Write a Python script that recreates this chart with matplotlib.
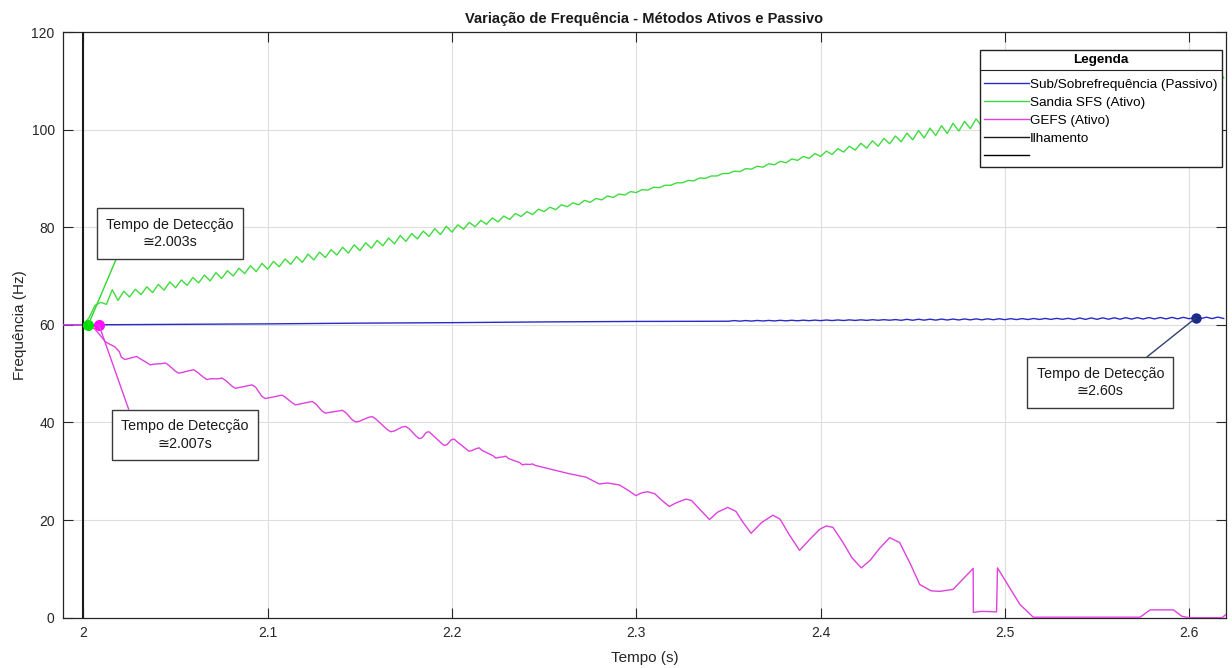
import numpy as np
import matplotlib
matplotlib.use("Agg")
import matplotlib.pyplot as plt
from matplotlib.lines import Line2D

plt.rcParams['font.family'] = ['Liberation Sans', 'DejaVu Sans']

# ---------------- data ----------------
title = "Variação de Frequência - Métodos Ativos e Passivo"
xlabel = "Tempo (s)"
ylabel = "Frequência (Hz)"
series_labels = ["Sub/Sobrefrequência (Passivo)", "Sandia SFS (Ativo)", "GEFS (Ativo)", "Ilhamento", ""]

x_ticks = [2.0, 2.1, 2.2, 2.3, 2.4, 2.5, 2.6]
x_tick_labels = ["2", "2.1", "2.2", "2.3", "2.4", "2.5", "2.6"]
y_ticks = [0, 20, 40, 60, 80, 100, 120]

# Passive (under/over frequency): smooth part, then ripple part sampled every 0.003125 s
blue_t_a = [1.988, 2.0, 2.05, 2.1, 2.15, 2.2, 2.25, 2.3]
blue_f_a = [60.0, 60.0, 60.1, 60.2, 60.35, 60.45, 60.6, 60.7]
blue_t0_b = 2.35
blue_dt_b = 0.003125
blue_f_b = [
    60.74, 60.87, 60.76, 60.88, 60.77, 60.90, 60.79, 60.91, 60.80, 60.93,
    60.82, 60.94, 60.83, 60.96, 60.85, 60.97, 60.86, 60.99, 60.88, 61.00,
    60.89, 61.02, 60.91, 61.03, 60.92, 61.05, 60.94, 61.06, 60.95, 61.08,
    60.93, 61.13, 60.94, 61.15, 60.96, 61.16, 60.97, 61.18, 60.99, 61.19,
    61.00, 61.21, 61.02, 61.22, 61.03, 61.24, 61.05, 61.25, 61.06, 61.27,
    61.08, 61.28, 61.09, 61.30, 61.11, 61.31, 61.12, 61.33, 61.14, 61.34,
    61.10, 61.41, 61.12, 61.42, 61.13, 61.44, 61.15, 61.45, 61.16, 61.47,
    61.18, 61.48, 61.19, 61.50, 61.21, 61.51, 61.22, 61.53, 61.24, 61.54,
    61.25, 61.56, 61.27, 61.57, 61.28, 61.59, 61.30,
]

# Sandia SFS, sampled every 0.003125 s from t = 2.0
green_t0 = 2.0
green_dt = 0.003125
green_f = [
    60.0, 61.5, 64.0, 64.6, 64.2, 67.2, 65.0,
    66.9, 65.7, 67.3, 66.2, 67.8, 66.6, 68.3, 67.1, 68.8, 67.6,
    69.2, 68.1, 69.7, 68.6, 70.2, 69.0, 70.7, 69.5, 71.1, 70.0,
    71.6, 70.5, 72.1, 70.9, 72.6, 71.4, 73.0, 71.9, 73.5, 72.4,
    74.0, 72.8, 74.5, 73.3, 74.9, 73.8, 75.4, 74.3, 75.9, 74.7,
    76.4, 75.2, 76.8, 75.7, 77.3, 76.2, 77.8, 76.6, 78.3, 77.1,
    78.7, 77.6, 79.2, 78.1, 79.7, 78.5, 80.2, 79.0,
    80.5, 79.6, 81.0, 80.1, 81.4, 80.6, 81.9, 81.1, 82.3, 81.6,
    82.8, 82.2, 83.2, 82.6, 83.7, 83.2, 84.1, 83.6, 84.6, 84.2,
    85.0, 84.6, 85.5, 85.1, 85.9, 85.6, 86.4, 86.1, 86.8, 86.6,
    87.3, 87.1,
    87.7, 87.6, 88.2, 88.1, 88.6, 88.6, 89.1, 89.1, 89.6, 89.5,
    90.1, 90.0, 90.5, 90.5, 91.0, 91.0, 91.5, 91.4, 92.0, 91.9,
    92.5, 92.3, 93.0, 92.8, 93.5, 93.2,
    94.0, 93.7, 94.5, 94.1, 95.1, 94.5, 95.6, 94.9, 96.1, 95.4,
    96.6, 95.8, 97.2, 96.2, 97.7, 96.6, 98.2, 97.1, 98.7, 97.5,
    99.3, 97.9,
    99.8, 98.3, 100.3, 98.8, 100.8, 99.2, 101.3, 99.7, 101.7, 100.2,
    102.2, 100.7, 102.7, 101.1, 103.2, 101.6, 103.6, 102.1, 104.1, 102.6,
    104.6, 103.0, 105.1, 103.5, 105.5, 104.0, 106.0, 104.5, 106.5, 104.9,
    107.0, 105.4, 107.4, 105.9, 107.9, 106.4, 108.4, 106.8, 108.9, 107.3,
    109.3, 107.8, 109.8, 108.3, 110.3, 108.7, 110.8, 109.2, 111.2, 109.7,
    111.7, 110.2, 112.2, 110.6,
]

# GEFS
mag_t = [1.988, 2.000, 2.003, 2.006, 2.009, 2.012, 2.0145, 2.017, 2.0195,
         2.0205, 2.0225, 2.0245, 2.0270, 2.0290, 2.0310, 2.0342, 2.0362, 2.0382,
         2.0424, 2.0444, 2.0464, 2.0496, 2.0516, 2.0536, 2.0578, 2.0598, 2.0618,
         2.0650, 2.0670, 2.0690, 2.0732, 2.0752, 2.0772, 2.0804, 2.0824, 2.0844,
         2.0895, 2.0915, 2.0935, 2.0967, 2.0987, 2.1007, 2.1058, 2.1078, 2.1098,
         2.1130, 2.1150, 2.1170, 2.1221, 2.1241, 2.1261, 2.1293, 2.1313, 2.1333,
         2.1384, 2.1404, 2.1424, 2.1457, 2.1477, 2.1497, 2.1547, 2.1567, 2.1587,
         2.1647, 2.1667, 2.1687, 2.1728, 2.1748, 2.1768, 2.1805, 2.1821, 2.1837,
         2.1860, 2.1875, 2.1890, 2.1941, 2.1957, 2.1973, 2.1996, 2.2011, 2.2026,
         2.2076, 2.2092, 2.2108, 2.2132, 2.2147, 2.2162, 2.2222, 2.2238, 2.2254,
         2.2277, 2.2292, 2.2307, 2.2366, 2.2382, 2.2398, 2.2422, 2.2437, 2.2452,
         2.2527, 2.2636, 2.2727, 2.2799, 2.2844, 2.2908, 2.2960, 2.2998, 2.3030,
         2.3062, 2.3100, 2.3140, 2.3179, 2.3220, 2.3270, 2.3300, 2.3350, 2.3397,
         2.3440, 2.3496, 2.3540, 2.3580, 2.3623, 2.3680, 2.3741, 2.3780, 2.3830,
         2.3886, 2.3940, 2.3995, 2.4031, 2.4067, 2.4120, 2.4170, 2.4221, 2.4270,
         2.4320, 2.4375, 2.4429, 2.4490, 2.4538, 2.4600, 2.4647, 2.4719, 2.4828,
         2.4829, 2.4873, 2.4955, 2.4960, 2.5009, 2.5082, 2.5154, 2.5734, 2.5788,
         2.5915, 2.5960, 2.6000, 2.6178, 2.6205]
mag_f = [60.0, 60.0, 59.8, 59.2, 57.9, 56.5, 56.0, 55.5, 54.5,
         53.4, 52.9, 53.1, 53.35, 53.5, 53.0, 52.3, 51.8, 51.95,
         52.05, 52.2, 51.7, 50.6, 50.1, 50.25, 50.65, 50.8, 50.3,
         49.3, 48.8, 48.95, 48.95, 49.1, 48.6, 47.5, 47.0, 47.15,
         47.55, 47.7, 47.2, 45.4, 44.9, 45.05, 45.45, 45.6, 45.1,
         44.1, 43.6, 43.75, 44.15, 44.3, 43.8, 42.4, 41.9, 42.05,
         42.35, 42.5, 42.0, 40.6, 40.1, 40.25, 41.05, 41.2, 40.7,
         38.6, 38.1, 38.25, 39.05, 39.2, 38.7, 37.2, 36.7, 36.85,
         37.95, 38.1, 37.6, 35.8, 35.3, 35.45, 36.45, 36.6, 36.1,
         34.6, 34.1, 34.25, 34.65, 34.8, 34.3, 33.2, 32.7, 32.85,
         32.95, 33.1, 32.6, 31.8, 31.3, 31.45, 31.4, 31.5, 31.2,
         30.5, 29.5, 28.8, 27.4, 27.6, 27.2, 26.0, 25.0, 25.6,
         25.8, 25.4, 24.0, 22.8, 23.6, 24.3, 24.0, 22.0, 20.1,
         21.6, 22.6, 21.8, 19.5, 17.3, 19.5, 21.0, 20.2, 17.0,
         13.8, 16.0, 18.1, 18.8, 18.5, 15.5, 12.3, 10.2, 11.8,
         14.2, 16.4, 15.4, 10.8, 6.8, 5.5, 5.4, 5.8, 10.1,
         1.1, 1.3, 1.2, 10.2, 7.2, 2.7, 0.1, 0.1, 1.6,
         1.6, 0.3, 0.0, 0.0, 0.8]

# Islanding instant
island_t = [2.0, 2.0]
island_f = [0, 120]

# Detection points
det_green = (2.0026, 60.0)
det_mag = (2.0084, 60.0)
det_blue = (2.6036, 61.4)
det_texts = ["Tempo de Detecção\n≅2.003s", "Tempo de Detecção\n≅2.007s", "Tempo de Detecção\n≅2.60s"]

# ---------------- styles ----------------
c_blue = '#2a2ac8'
c_green = '#3fdc3f'
c_mag = '#e040e0'
c_axis = '#262626'

fig = plt.figure(figsize=(12.32, 6.68), dpi=100)
ax = fig.add_axes([63/1232, 1 - 617.7/668, (1226 - 63)/1232, (617.7 - 32)/668])

green_t = green_t0 + green_dt * np.arange(len(green_f))
blue_t = np.concatenate([blue_t_a, blue_t0_b + blue_dt_b * np.arange(len(blue_f_b))])
blue_f = np.concatenate([blue_f_a, blue_f_b])

l_blue, = ax.plot(blue_t, blue_f, color=c_blue, lw=1.0, zorder=3)
l_green, = ax.plot(green_t, green_f, color=c_green, lw=1.0, zorder=3)
l_mag, = ax.plot(mag_t, mag_f, color=c_mag, lw=1.0, zorder=4)
l_isl, = ax.plot(island_t, island_f, color='#1a1a1a', lw=1.5, zorder=5)
l_extra = Line2D([], [], color='black', lw=1.0)

ax.plot([det_green[0]], [det_green[1]], 'o', color='#00e000', ms=7, zorder=6)
ax.plot([det_mag[0]], [det_mag[1]], 'o', color='#ff10ff', ms=7, zorder=6)
ax.plot([det_blue[0]], [det_blue[1]], 'o', color='#1c2a8c', ms=6.5, zorder=6)

box = dict(boxstyle='square,pad=0.65', fc='white', ec='#3a3a3a', lw=1.0)
ann_kw = dict(textcoords='axes fraction', ha='center', va='center', multialignment='center',
              fontsize=10.3, color='#1a1a1a', bbox=box, zorder=7, linespacing=1.35)
ax.annotate(det_texts[0], xy=det_green, xytext=(0.092, 0.656),
            arrowprops=dict(arrowstyle='-', color='#2ed82e', lw=1.0, relpos=(0.11, 0.0),
                            shrinkA=0, shrinkB=0), **ann_kw)
ax.annotate(det_texts[1], xy=det_mag, xytext=(0.1049, 0.312),
            arrowprops=dict(arrowstyle='-', color='#e040e0', lw=1.0, relpos=(0.085, 1.0),
                            shrinkA=0, shrinkB=0), **ann_kw)
ax.annotate(det_texts[2], xy=det_blue, xytext=(0.892, 0.4016),
            arrowprops=dict(arrowstyle='-', color='#33406e', lw=1.0, relpos=(0.77, 1.0),
                            shrinkA=0, shrinkB=0), **ann_kw)

ax.set_xlim(1.9889, 2.62)
ax.set_ylim(0, 120)
ax.set_xticks(x_ticks)
ax.set_xticklabels(x_tick_labels)
ax.set_yticks(y_ticks)
ax.grid(True, color='#dedede', lw=0.8)
ax.set_axisbelow(True)
ax.tick_params(direction='in', length=7.5, width=0.8, colors=c_axis, labelsize=10,
               top=True, right=True, pad=6)
for s in ax.spines.values():
    s.set_color(c_axis)
    s.set_linewidth(0.9)

ax.set_title(title, fontsize=10.5, fontweight='bold', color='#1a1a1a', pad=6.5)
ax.set_xlabel(xlabel, fontsize=11, color=c_axis, labelpad=8)
ax.set_ylabel(ylabel, fontsize=11, color=c_axis, labelpad=3)

leg = ax.legend([l_blue, l_green, l_mag, l_isl, l_extra], series_labels,
                loc='upper right', bbox_to_anchor=(0.9966, 0.969), borderaxespad=0,
                fontsize=9.7, title='Legenda', fancybox=False, framealpha=1,
                edgecolor='#222222', handlelength=3.3, handletextpad=0.1,
                labelspacing=0.42, borderpad=0.32)
leg.get_title().set_fontweight('bold')
leg.get_title().set_fontsize(9.7)
leg.get_frame().set_linewidth(1.0)
leg.set_zorder(10)
for h in leg.legend_handles:
    h.set_linewidth(1.0)
# extra gap between the legend title and the entries
leg._legend_box.sep = leg._legend_box.sep + 4.3

fig.canvas.draw()
r = fig.canvas.get_renderer()
fb = leg.get_frame().get_window_extent(r)
tb = leg.get_title().get_window_extent(r)
ysep = tb.y0 - 4
inv = fig.transFigure.inverted()
(x0f, yf), (x1f, _) = inv.transform([(fb.x0, ysep), (fb.x1, ysep)])
fig.add_artist(Line2D([x0f, x1f], [yf, yf], transform=fig.transFigure, color='#222222',
                      lw=0.8, zorder=20))

fig.savefig('out.png', dpi=100)
